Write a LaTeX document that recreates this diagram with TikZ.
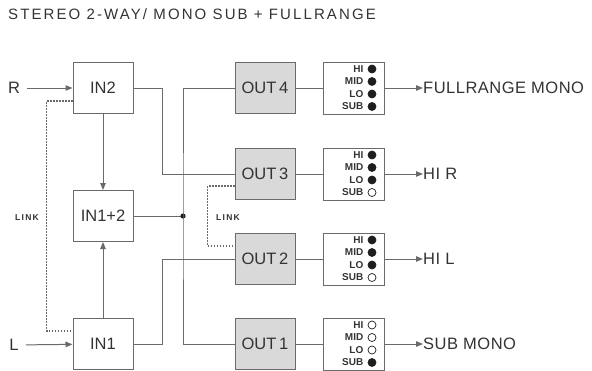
\documentclass[tikz,border=0pt]{standalone}
\usepackage{fontspec}
\setmainfont{Liberation Sans}
\newfontfamily\titlefont[LetterSpace=14]{Liberation Sans}
\newfontfamily\tagfont[LetterSpace=15]{Liberation Sans}
\newfontfamily\outfont[LetterSpace=3]{Liberation Sans}
\usepackage{tikz}
\usetikzlibrary{positioning, arrows.meta, calc}
\definecolor{dgline}{HTML}{6A6A6A}
\definecolor{dgtext}{HTML}{333333}
\definecolor{dgfill}{HTML}{D9D9D9}
\definecolor{dgon}{HTML}{1E1E1E}
\definecolor{dgoff}{HTML}{FFFFFF}

\begin{document}
\begin{tikzpicture}[x=1pt, y=-1pt,
  inbox/.style={rectangle, draw=dgline, line width=1pt, fill=white,
                minimum width=60pt, minimum height=51pt, inner sep=0pt,
                font=\fontsize{16.5}{16.5}\selectfont, text=dgtext},
  outbox/.style={inbox, fill=dgfill},
  selbox/.style={rectangle, draw=dgline, line width=1pt,
                 minimum width=61pt, minimum height=52pt, inner sep=0pt},
  wire/.style={dgline, line width=1pt},
  arrowstyle/.style={wire, -{Triangle[length=7pt, width=5.5pt]}},
  linkline/.style={dgline, line width=1.2pt, dash pattern=on 1.5pt off 1.5pt},
  lbl/.style={font=\outfont\fontsize{16.5}{16.5}\selectfont, text=dgtext, inner sep=0pt},
  seltag/.style={font=\fontsize{10}{10}\selectfont\bfseries, text=dgtext,
                 inner sep=0pt, anchor=east},
  linktag/.style={font=\tagfont\fontsize{8.5}{8.5}\selectfont\bfseries, text=dgtext, inner sep=0pt}
]
\useasboundingbox (0,0) rectangle (592,370);

% title
\node[anchor=west, inner sep=0pt, text=dgtext, font=\titlefont\fontsize{15}{15}\selectfont]
  (title) at (8,14) {STEREO 2-WAY/ MONO SUB + FULLRANGE};

% input stage
\foreach \n/\t/\y in {in2/IN2/88, in12/IN1+2/216, in1/IN1/344} {
  \node[inbox] (\n) at (103,\y) {\t};
}
\node[lbl] (r) at (14,88) {R};
\node[lbl] (l) at (14,345) {L};
\draw[arrowstyle, shorten <=7pt] (r) -- (in2);
\draw[arrowstyle, shorten <=7pt] (l) -- (in1);
\draw[arrowstyle] (in2) -- (in12);
\draw[arrowstyle] (in1) -- (in12);

% output stage
\foreach \i/\y/\a/\b/\c/\d/\txt in {%
  4/88/dgon/dgon/dgon/dgon/{FULLRANGE MONO},%
  3/174/dgon/dgon/dgon/dgoff/{HI R},%
  2/259/dgon/dgon/dgon/dgoff/{HI L},%
  1/344/dgoff/dgoff/dgoff/dgon/{SUB MONO}%
} {
  \node[outbox] (out\i) at (265,\y) {OUT\,\i};
  \node[selbox] (sel\i) at (353.5,\y) {};
  \foreach \s/\dy/\f in {HI/-19/\a, MID/-6.5/\b, LO/6/\c, SUB/18.5/\d} {
    \node[seltag] at ([xshift=10pt, yshift=-\dy pt]sel\i.center) {\s};
    \draw[dgon, line width=0.7pt, fill=\f]
      ([xshift=18.5pt, yshift=-\dy pt]sel\i.center) circle (4pt);
  }
  \node[lbl, anchor=west] (txt\i) at (423,\y) {\txt};
  \draw[wire] (out\i) -- (sel\i);
  \draw[arrowstyle] (sel\i) -- (txt\i);
}

% routing
\coordinate (bus) at (183,216);
\draw[wire] (in12) -- (bus);
\fill[dgon] (bus) circle (2.6pt);
\draw[wire] (out4.west) -| (bus) |- (out1.west);
\draw[wire] (in2.east) -- ++(29,0) |- (out3.west);
\draw[wire] (in1.east) -- ++(29,0) |- (out2.west);

% links
\draw[linkline] ([yshift=-13pt]in2.west) -- ++(-26,0) |- ([yshift=13pt]in1.west);
\node[linktag] (linkl) at (27,218) {LINK};
\draw[linkline] ([yshift=-12pt]out3.west) -- ++(-27,0) |- ([yshift=13pt]out2.west);
\node[linktag] (linkr) at (228,218) {LINK};
\end{tikzpicture}
\end{document}
